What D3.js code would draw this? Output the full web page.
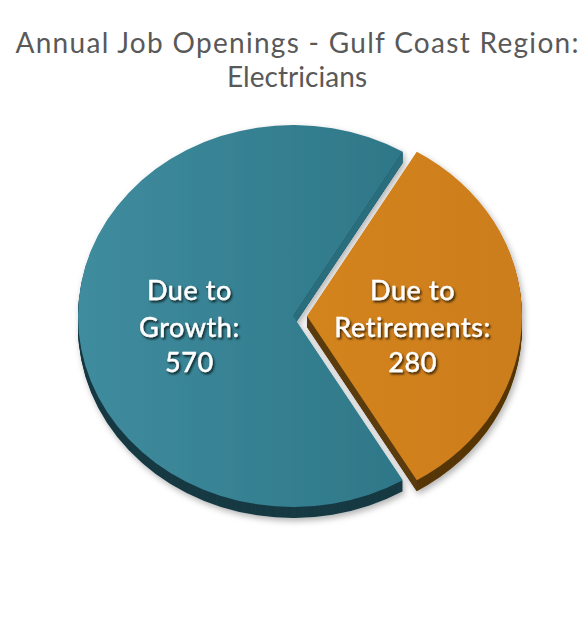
<!DOCTYPE html>
<html>
<head>
<meta charset="utf-8">
<script src="https://cdn.jsdelivr.net/npm/d3@7"></script>
<style>
  html, body { margin: 0; padding: 0; background: #ffffff; }
  svg { display: block; }
</style>
</head>
<body>
<div id="chart"></div>
<script>
// ---- data ----
const categories = ["Due to Growth", "Due to Retirements"];
const values = [570, 280];
const labelLines = [["Due to", "Growth:"], ["Due to", "Retirements:"]];
const titleLines = ["Annual Job Openings - Gulf Coast Region:", "Electricians"];

// ---- layout ----
const W = 588, H = 624;
const cx = 293, cy = 316;
const ry = 191, rx = 215;
const sx = rx / ry;
const depth = 11;
const explode = 14;

const topColors = [["#3f8c9e", "#2e7788"], ["#d4841f", "#cc7d1c"]];
const sideColors = ["#163a43", "#573708"];
const cutColors = ["#2a6d7d", "#5a3a0b"];

const svg = d3.select("#chart").append("svg")
  .attr("width", W).attr("height", H);

const defs = svg.append("defs");
topColors.forEach((c, i) => {
  const g = defs.append("linearGradient").attr("id", "grad" + i)
    .attr("x1", "0%").attr("y1", "0%").attr("x2", "100%").attr("y2", "0%");
  g.append("stop").attr("offset", "0%").attr("stop-color", c[0]);
  g.append("stop").attr("offset", "100%").attr("stop-color", c[1]);
});
const f = defs.append("filter").attr("id", "txtShadow")
  .attr("x", "-20%").attr("y", "-20%").attr("width", "140%").attr("height", "160%");
f.append("feDropShadow").attr("dx", 1.5).attr("dy", 2).attr("stdDeviation", 1.2)
  .attr("flood-color", "#000").attr("flood-opacity", 0.75);
const f2 = defs.append("filter").attr("id", "pieShadow")
  .attr("x", "-20%").attr("y", "-20%").attr("width", "140%").attr("height", "140%");
f2.append("feDropShadow").attr("dx", 2).attr("dy", 3).attr("stdDeviation", 3)
  .attr("flood-color", "#000").attr("flood-opacity", 0.3);

// title
const titleLens = [563, 140];
svg.append("g").selectAll("text").data(titleLines).join("text")
  .attr("x", W / 2 + 3)
  .attr("y", (d, i) => 53 + i * 34)
  .attr("text-anchor", "middle")
  .attr("font-family", "Lato, 'Open Sans', sans-serif")
  .attr("font-size", 28)
  .attr("textLength", (d, i) => titleLens[i])
  .attr("lengthAdjust", "spacing")
  .attr("fill", "#595959")
  .text(d => d);

// pie
const total = d3.sum(values);
const orangeSpan = values[1] / total * 2 * Math.PI;
const start = Math.PI / 2 + orangeSpan / 2; // teal begins where orange ends
const pie = d3.pie().sort(null).startAngle(start).endAngle(start + 2 * Math.PI);
const arcs = pie(values);
const arc = d3.arc().innerRadius(0).outerRadius(ry);
const labelArc = d3.arc().innerRadius(92).outerRadius(92);

function offsetOf(d) {
  if (d.index === 0) return [0, 0];
  const mid = (d.startAngle + d.endAngle) / 2;
  return [Math.sin(mid) * explode, -Math.cos(mid) * explode];
}
function pt(a, r) { return [Math.sin(a) * r, -Math.cos(a) * r]; }

const pieG = svg.append("g").attr("filter", "url(#pieShadow)");

arcs.forEach((d, i) => {
  const [ox, oy] = offsetOf(d);
  const g = pieG.append("g").attr("transform", `translate(${cx + ox},${cy + oy})`);
  for (let k = depth; k >= 1; k--) {
    g.append("path")
      .attr("transform", `translate(0,${k}) scale(${sx},1)`)
      .attr("d", arc(d))
      .attr("fill", sideColors[i]);
  }
  const p = pt(d.endAngle, ry);
  const px = p[0] * sx, py = p[1];
  g.append("path")
    .attr("d", `M0,0L${px},${py}L${px},${py + depth}L0,${depth}Z`)
    .attr("fill", cutColors[i]);
  g.append("path")
    .attr("transform", `scale(${sx},1)`)
    .attr("d", arc(d))
    .attr("fill", `url(#grad${i})`);
});

// labels
const lblOffsets = [-16.5, 20.5, 56];
arcs.forEach((d, i) => {
  const [ox] = offsetOf(d);
  const c = labelArc.centroid(d);
  const x = cx + ox + c[0] * sx + (i === 1 ? 2 : 0);
  const lines = labelLines[i].concat([String(values[i])]);
  svg.append("g").selectAll("text").data(lines).join("text")
    .attr("x", x)
    .attr("y", (t, j) => cy + lblOffsets[j])
    .attr("text-anchor", "middle")
    .attr("font-family", "Lato, 'Open Sans', sans-serif")
    .attr("font-size", 27)
    .attr("letter-spacing", 0.6)
    .attr("fill", "#ffffff")
    .attr("stroke", "#ffffff")
    .attr("stroke-width", 0.4)
    .attr("filter", "url(#txtShadow)")
    .text(t => t);
});
</script>
</body>
</html>
